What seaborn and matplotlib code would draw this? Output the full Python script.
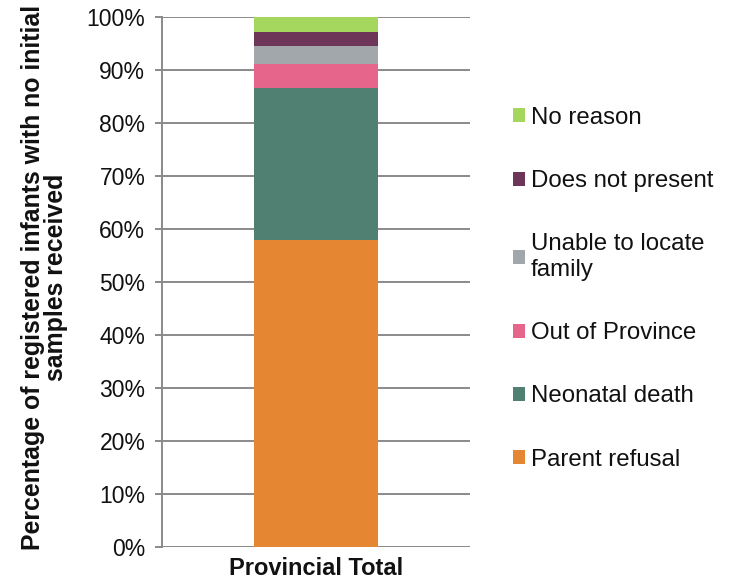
import numpy as np
import pandas as pd
import matplotlib
matplotlib.use("Agg")
import matplotlib.pyplot as plt
import seaborn as sns
from matplotlib.patches import Patch
from matplotlib.ticker import PercentFormatter

# Data (bottom to top)
categories = ["Parent refusal", "Neonatal death", "Out of Province",
              "Unable to locate\nfamily", "Does not present", "No reason"]
values = [57.9, 28.8, 4.5, 3.4, 2.6, 2.8]
colors = ["#E58633", "#4F8071", "#E5668A", "#A2A7AB", "#6D3659", "#A5D65E"]
group = ["Provincial Total"]

sns.set_theme(style="white")
plt.rcParams["font.family"] = ["Liberation Sans", "DejaVu Sans"]

fig = plt.figure(figsize=(7.36, 5.79), dpi=100)
ax = fig.add_axes([0.220, 0.0553, 0.419, 0.9153])

# stacked bar: draw cumulative totals from the top down
cum = np.cumsum(values)
for i in reversed(range(len(values))):
    df = pd.DataFrame({"group": group, "pct": [cum[i]]})
    sns.barplot(data=df, x="group", y="pct", color=colors[i],
                width=0.403, saturation=1, linewidth=0, ax=ax, zorder=3)

ax.set_ylim(0, 100)
ax.set_xlim(-0.5, 0.5)
ax.set_yticks(np.arange(0, 101, 10))
ax.yaxis.set_major_formatter(PercentFormatter(decimals=0))
ax.grid(axis="y", color="#8a8a8a", linewidth=1.4, zorder=0)
ax.set_axisbelow(True)
for s in ["top", "right", "bottom"]:
    ax.spines[s].set_visible(False)
ax.spines["left"].set_color("#8a8a8a")
ax.spines["left"].set_linewidth(1.4)
ax.axhline(0, color="#8a8a8a", linewidth=1.4, zorder=1)
ax.tick_params(axis="y", length=5, width=1.4, color="#8a8a8a", labelsize=16.5,
               left=True, pad=7, labelcolor="#111111")
ax.tick_params(axis="x", length=0, labelsize=17, pad=7, labelcolor="#111111")
for lbl in ax.get_xticklabels():
    lbl.set_fontweight("bold")
ax.set_xlabel("")
ax.set_ylabel("Percentage of registered infants with no initial\nsamples received",
              fontsize=17.9, fontweight="bold", color="#111111",
              linespacing=0.95)
ax.yaxis.set_label_coords(-0.305, 0.508)

handles = [Patch(facecolor=c, edgecolor="none") for c in colors][::-1]
labels = categories[::-1]
fig.legend(handles, labels, loc="upper left", bbox_to_anchor=(0.697, 0.8156),
           frameon=False, fontsize=17.3, handlelength=0.52, handleheight=0.52,
           handletextpad=0.22, labelspacing=1.72, borderaxespad=0, borderpad=0,
           labelcolor="#111111")

fig.savefig("out.png", dpi=100)
